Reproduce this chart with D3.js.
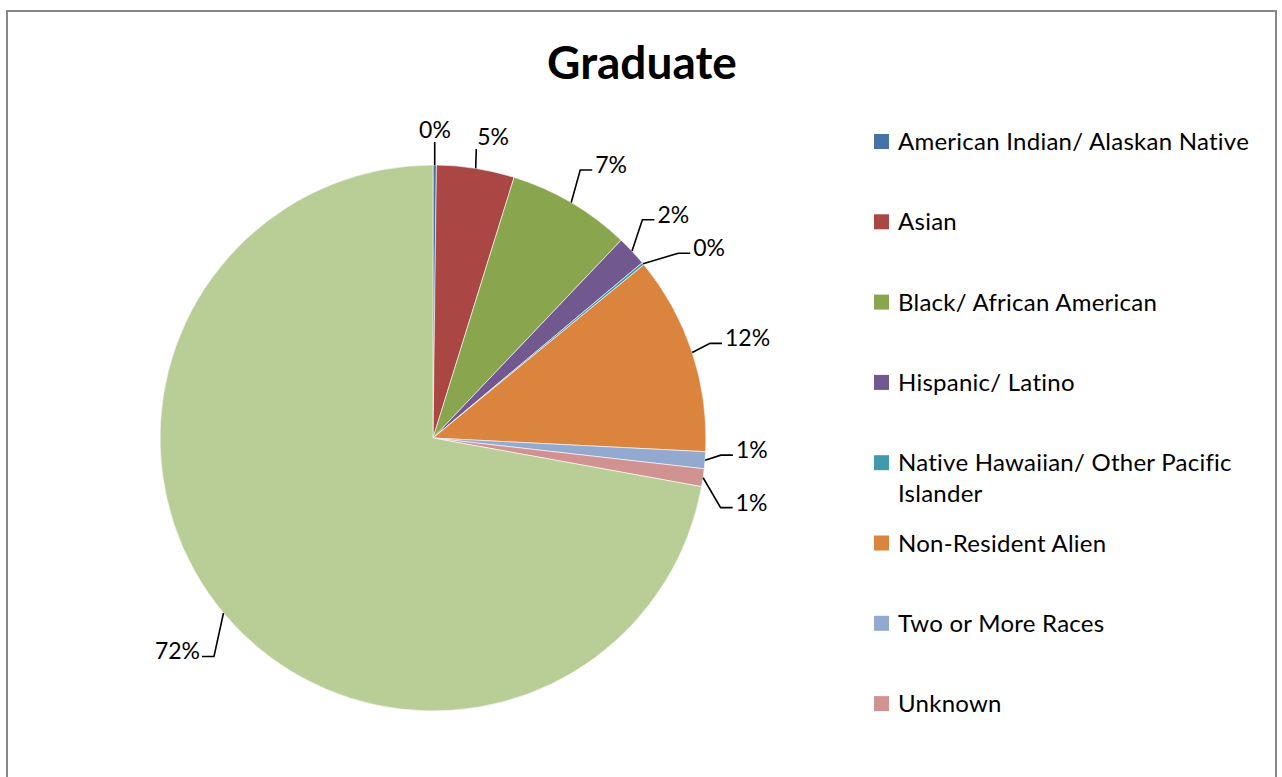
<!DOCTYPE html>
<html>
<head>
<meta charset="utf-8">
<script src="https://cdn.jsdelivr.net/npm/d3@7"></script>
<style>
  html, body { margin: 0; padding: 0; background: #fff; }
  svg { display: block; }
  text { font-family: Lato, "Open Sans", sans-serif; fill: #000; }
</style>
</head>
<body>
<svg id="chart" width="1282" height="777"></svg>
<script>
// ---- data ----
const title = "Graduate";
const categories = [
  "American Indian/ Alaskan Native",
  "Asian",
  "Black/ African American",
  "Hispanic/ Latino",
  "Native Hawaiian/ Other Pacific Islander",
  "Non-Resident Alien",
  "Two or More Races",
  "Unknown",
  "White"
];
const values = [0.2, 4.6, 7.3, 1.8, 0.15, 11.75, 1.0, 1.05, 72.15];
const labels = ["0%", "5%", "7%", "2%", "0%", "12%", "1%", "1%", "72%"];
const colors = ["#4572A7", "#AA4643", "#89A54E", "#71588F", "#4198AF", "#DB843D", "#93A9CF", "#D19392", "#B9CD96"];
const legendCount = 8; // legend is clipped at the bottom of the frame

// ---- layout ----
const W = 1282, H = 777;
const cx = 433, cy = 438, R = 273;
const labelAngleNudge = [0, 2.3, 2.7, 0.3, 5.2, 0.7, -2.5, 3.1, 0];   // degrees
const labelRadius = [308, 307, 326, 328, 335, 330, 319, 325, 333];

const svg = d3.select("#chart");

// frame
svg.append("rect")
  .attr("x", 7).attr("y", 11)
  .attr("width", 1269).attr("height", 820)
  .attr("fill", "#fff")
  .attr("stroke", "#878787").attr("stroke-width", 2);

// title
svg.append("text")
  .attr("x", 642).attr("y", 79)
  .attr("text-anchor", "middle")
  .attr("font-size", 46).attr("font-weight", "bold")
  .text(title);

// pie
const pie = d3.pie().sort(null).value(d => d)(values);
const arc = d3.arc().innerRadius(0).outerRadius(R);
const g = svg.append("g").attr("transform", `translate(${cx},${cy})`);
g.selectAll("path.slice").data(pie).join("path")
  .attr("class", "slice")
  .attr("d", arc)
  .attr("fill", (d, i) => colors[i])
  .attr("stroke", "#fff").attr("stroke-width", 0.6);

// labels + leader lines
const polar = (r, a) => [r * Math.sin(a), -r * Math.cos(a)];
const lab = svg.append("g").attr("transform", `translate(${cx},${cy})`);
pie.forEach((d, i) => {
  const mid = (d.startAngle + d.endAngle) / 2;
  const la = mid + labelAngleNudge[i] * Math.PI / 180;
  const [lx, ly] = polar(labelRadius[i], la);
  const t = lab.append("text")
    .attr("x", lx).attr("y", ly + 8)
    .attr("text-anchor", "middle")
    .attr("font-size", 23)
    .text(labels[i]);
  const w = t.node().getComputedTextLength();
  const [ex, ey] = polar(R, mid);
  let pts;
  const left = lx - w / 2, right = lx + w / 2;
  if (Math.abs(Math.sin(la)) < 0.25 && Math.cos(la) > 0) {
    // top labels: leader goes to the bottom of the text
    const bx = Math.max(left - 1, Math.min(right, ex));
    pts = [[ex, ey], [bx, ly + 12]];
  } else if (lx >= 0) {
    pts = [[ex, ey], [left - 15, ly + 5], [left - 3, ly + 5]];
  } else {
    pts = [[ex, ey], [right + 14, ly + 5], [right + 2, ly + 5]];
  }
  lab.append("path")
    .attr("d", d3.line()(pts))
    .attr("fill", "none")
    .attr("stroke", "#000").attr("stroke-width", 1.6);
});

// legend
const legend = svg.append("g");
const legendX = 874, legendY0 = 141.5, legendStep = 80.3, maxTextW = 368;
categories.slice(0, legendCount).forEach((c, i) => {
  const yc = legendY0 + i * legendStep;
  legend.append("rect")
    .attr("x", legendX).attr("y", yc - 7.5)
    .attr("width", 15).attr("height", 15)
    .attr("fill", colors[i]);
  const t = legend.append("text")
    .attr("x", legendX + 24).attr("y", yc + 8.5)
    .attr("font-size", 24)
    .attr("letter-spacing", 0.25);
  // simple word wrapping
  const words = c.split(" ");
  let line = [];
  let ts = t.append("tspan").attr("x", legendX + 24).attr("dy", 0);
  words.forEach(wd => {
    line.push(wd);
    ts.text(line.join(" "));
    if (ts.node().getComputedTextLength() > maxTextW && line.length > 1) {
      line.pop();
      ts.text(line.join(" "));
      line = [wd];
      ts = t.append("tspan").attr("x", legendX + 24).attr("dy", 31).text(wd);
    }
  });
});
</script>
</body>
</html>
